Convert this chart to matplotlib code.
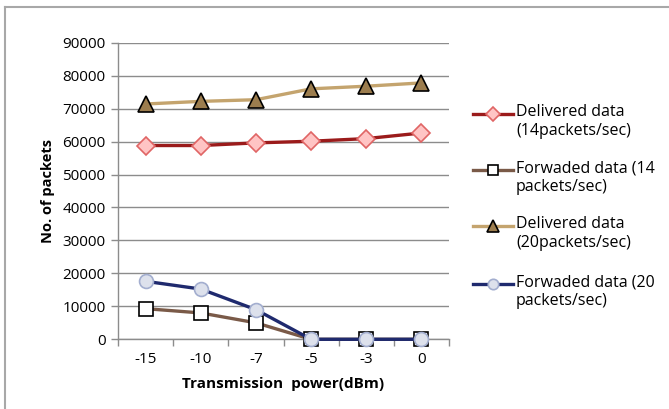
import matplotlib
matplotlib.use("Agg")
import matplotlib.pyplot as plt
from matplotlib.lines import Line2D
import numpy as np

categories = ["-15", "-10", "-7", "-5", "-3", "0"]
delivered_14 = [58800, 58800, 59600, 60100, 60900, 62600]
forwarded_14 = [9300, 8000, 5000, 0, 0, 0]
delivered_20 = [71400, 72200, 72700, 76000, 76800, 77800]
forwarded_20 = [17600, 15250, 9000, 0, 0, 0]
y_ticks = [0, 10000, 20000, 30000, 40000, 50000, 60000, 70000, 80000, 90000]

labels = ["Delivered data\n(14packets/sec)", "Forwaded data (14\npackets/sec)",
          "Delivered data\n(20packets/sec)", "Forwaded data (20\npackets/sec)"]

plt.rcParams['font.family'] = ['Open Sans', 'DejaVu Sans']

W, H = 669, 409
fig = plt.figure(figsize=(W / 100, H / 100), dpi=100)
fig.patch.set_facecolor("white")

def fx(px):
    return px / W

def fy(py):
    return 1 - py / H

ax = fig.add_axes([fx(118), fy(339.3), (449 - 118) / W, (339.3 - 42.7) / H])

x = np.arange(len(categories))
styles = [
    dict(color="#9B1B1B", marker="D", mfc="#FFC4C4", mec="#E06565", ms=9.5, mew=1.2),
    dict(color="#7A5A48", marker="s", mfc="white", mec="black", ms=10, mew=1.2),
    dict(color="#C4A46E", marker="^", mfc="#9C7D4E", mec="black", ms=11, mew=1.2),
    dict(color="#1F2A6E", marker="o", mfc="#DDE1EC", mec="#A3AECF", ms=10, mew=1.2),
]
series = [delivered_14, forwarded_14, delivered_20, forwarded_20]
for s, st in zip(series, styles):
    ax.plot(x, s, lw=2.4, zorder=3, clip_on=False, **st)

ax.set_xlim(-0.5, len(categories) - 0.5)
ax.set_ylim(0, 90000)
ax.set_yticks(y_ticks)
ax.set_yticklabels([str(v) for v in y_ticks])
ax.set_xticks(np.arange(-0.5, len(categories)), minor=False)
ax.set_xticklabels([])
ax.set_xticks(x, minor=True)
ax.set_xticklabels(categories, minor=True)
ax.tick_params(axis="x", which="minor", length=0, pad=9, labelsize=11)
ax.tick_params(axis="x", which="major", length=5, width=1, color="#8C8C8C", direction="out")
ax.tick_params(axis="y", length=5, width=1, color="#8C8C8C", direction="out", pad=4, labelsize=11)
ax.grid(axis="y", color="#8C8C8C", lw=1)
ax.set_axisbelow(True)
for sp in ["top", "right"]:
    ax.spines[sp].set_visible(False)
for sp in ["left", "bottom"]:
    ax.spines[sp].set_color("#8C8C8C")
    ax.spines[sp].set_linewidth(1)

ax.set_ylabel("No. of packets", fontsize=10.5, fontweight="bold", labelpad=5)
ax.set_xlabel("Transmission  power(dBm)", fontsize=11, fontweight="bold", labelpad=7)

# legend drawn manually
leg_y = [114, 170, 226, 284]
for yy, lab, st in zip(leg_y, labels, styles):
    st2 = dict(st)
    st2["ms"] = st["ms"] * 0.75
    fig.add_artist(Line2D([fx(473), fx(513)], [fy(yy), fy(yy)], lw=2.4, **{k: v for k, v in st2.items() if k != "marker"}, marker=None))
    fig.add_artist(Line2D([fx(493)], [fy(yy)], lw=0, **st2))
    fig.text(fx(516), fy(yy - 9.5), lab, fontsize=11.5, va="top", ha="left", linespacing=1.2)

# outer border lines (top and left)
fig.add_artist(Line2D([fx(5), 1], [fy(7), fy(7)], color="#A8A8A8", lw=1.5))
fig.add_artist(Line2D([fx(5), fx(5)], [fy(7), 0], color="#A8A8A8", lw=1.5))

fig.savefig("out.png", dpi=100, facecolor="white")
